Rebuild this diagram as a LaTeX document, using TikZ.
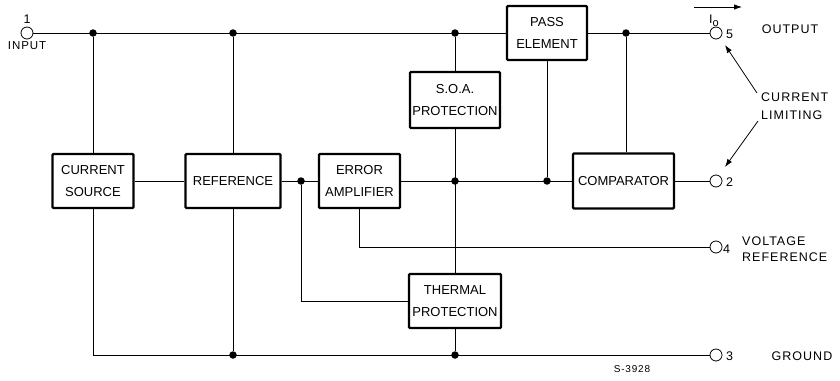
\documentclass[tikz,border=0pt]{standalone}
\usepackage{fontspec}
\setmainfont{Liberation Sans}
\newfontfamily\lsp[LetterSpace=8]{Liberation Sans}
\usetikzlibrary{arrows.meta}
\begin{document}
\begin{tikzpicture}[x=1pt,y=-1pt,
  blk/.style={draw,line width=2.3pt,rectangle,rounded corners=1pt,align=center,
    font=\fontsize{13}{22}\selectfont,inner sep=0pt},
  wire/.style={line width=0.8pt},
  term/.style={circle,draw,line width=0.8pt,minimum size=12pt,inner sep=0pt},
  jdot/.style={circle,fill,inner sep=0pt,minimum size=7.5pt},
  lbl/.style={font=\lsp\fontsize{12.5}{14}\selectfont,inner sep=0pt},
  arr/.style={line width=0.8pt,-{Latex[length=8pt,width=5.5pt]}}]
\useasboundingbox (0,0) rectangle (840,380);
% blocks
\node[blk,minimum width=81pt,minimum height=54pt] (cs) at (93,181) {CURRENT\\SOURCE};
\node[blk,minimum width=95pt,minimum height=54pt] (ref) at (233,181) {REFERENCE};
\node[blk,minimum width=81pt,minimum height=54pt] (ea) at (359.5,181) {ERROR\\AMPLIFIER};
\node[blk,minimum width=90pt,minimum height=56pt] (soa) at (455,100) {S.O.A.\\PROTECTION};
\node[blk,minimum width=80pt,minimum height=54pt] (pe) at (547,33) {PASS\\ELEMENT};
\node[blk,minimum width=101pt,minimum height=55pt] (comp) at (623.5,181) {COMPARATOR};
\node[blk,minimum width=92pt,minimum height=54pt] (th) at (455,301) {THERMAL\\PROTECTION};
% terminals
\node[term] (t1) at (27,33) {};
\node[term] (t5) at (716,33) {};
\node[term] (t2) at (716,181) {};
\node[term] (t4) at (716,247) {};
\node[term] (t3) at (716,355) {};
% junction dots
\node[jdot] (d1) at (93,33) {};
\node[jdot] (d2) at (233,33) {};
\node[jdot] (d3) at (455,33) {};
\node[jdot] (d4) at (626,33) {};
\node[jdot] (d5) at (301,181) {};
\node[jdot] (d6) at (455,181) {};
\node[jdot] (d7) at (547,181) {};
\node[jdot] (d8) at (233,355) {};
\node[jdot] (d9) at (455,355) {};
% wires
\draw[wire] (t1.east) -- (pe.west);
\draw[wire] (pe.east) -- (t5.west);
\draw[wire] (d1) -- (cs.north);
\draw[wire] (d2) -- (ref.north);
\draw[wire] (d3) -- (soa.north);
\draw[wire] (soa.south) -- (th.north);
\draw[wire] (d4) -- (d4 |- comp.north);
\draw[wire] (pe.south) -- (d7);
\draw[wire] (cs.east) -- (ref.west);
\draw[wire] (ref.east) -- (ea.west);
\draw[wire] (ea.east) -- (comp.west);
\draw[wire] (comp.east) -- (t2.west);
\draw[wire] (ea.south) |- (t4.west);
\draw[wire] (d5) |- (th.west);
\draw[wire] (cs.south) |- (t3.west);
\draw[wire] (ref.south) -- (d8);
\draw[wire] (th.south) -- (d9);
% labels
\node[lbl] (n1) at (27,19) {1};
\node[lbl,font=\lsp\fontsize{11.5}{12}\selectfont] (ninput) at (27,46) {INPUT};
\node[lbl,anchor=west] (n5) at (726,34) {5};
\node[lbl,anchor=west] (n2) at (726,182) {2};
\node[lbl,anchor=west] (n4) at (723,249) {4};
\node[lbl,anchor=west] (n3) at (726,356) {3};
\node[lbl] (nout) at (790,29) {OUTPUT};
\node[lbl] (ngnd) at (802,356) {GROUND};
\node[lbl,anchor=west] (nvolt) at (742,241.5) {VOLTAGE};
\node[lbl,anchor=west] (nvref) at (742,257.5) {REFERENCE};
\node[lbl,anchor=west] (ncur) at (761,97) {CURRENT};
\node[lbl,anchor=west] (nlim) at (761,115) {LIMITING};
\node[lbl,anchor=west] (nio) at (709,21) {I\raisebox{-3pt}{\fontsize{11}{11}\selectfont o}};
\node[lbl,font=\lsp\fontsize{10}{10}\selectfont] (nsn) at (632,369) {S-3928};
% io arrow
\coordinate (ioa) at (694,7);
\coordinate (iob) at (742,7);
\draw[arr] (ioa) -- (iob);
% current limiting arrows
\coordinate (cla) at (757,93);
\coordinate (clb) at (725,45);
\coordinate (clc) at (758,121);
\coordinate (cld) at (725,167);
\draw[arr] (cla) -- (clb);
\draw[arr] (clc) -- (cld);
\end{tikzpicture}
\end{document}
